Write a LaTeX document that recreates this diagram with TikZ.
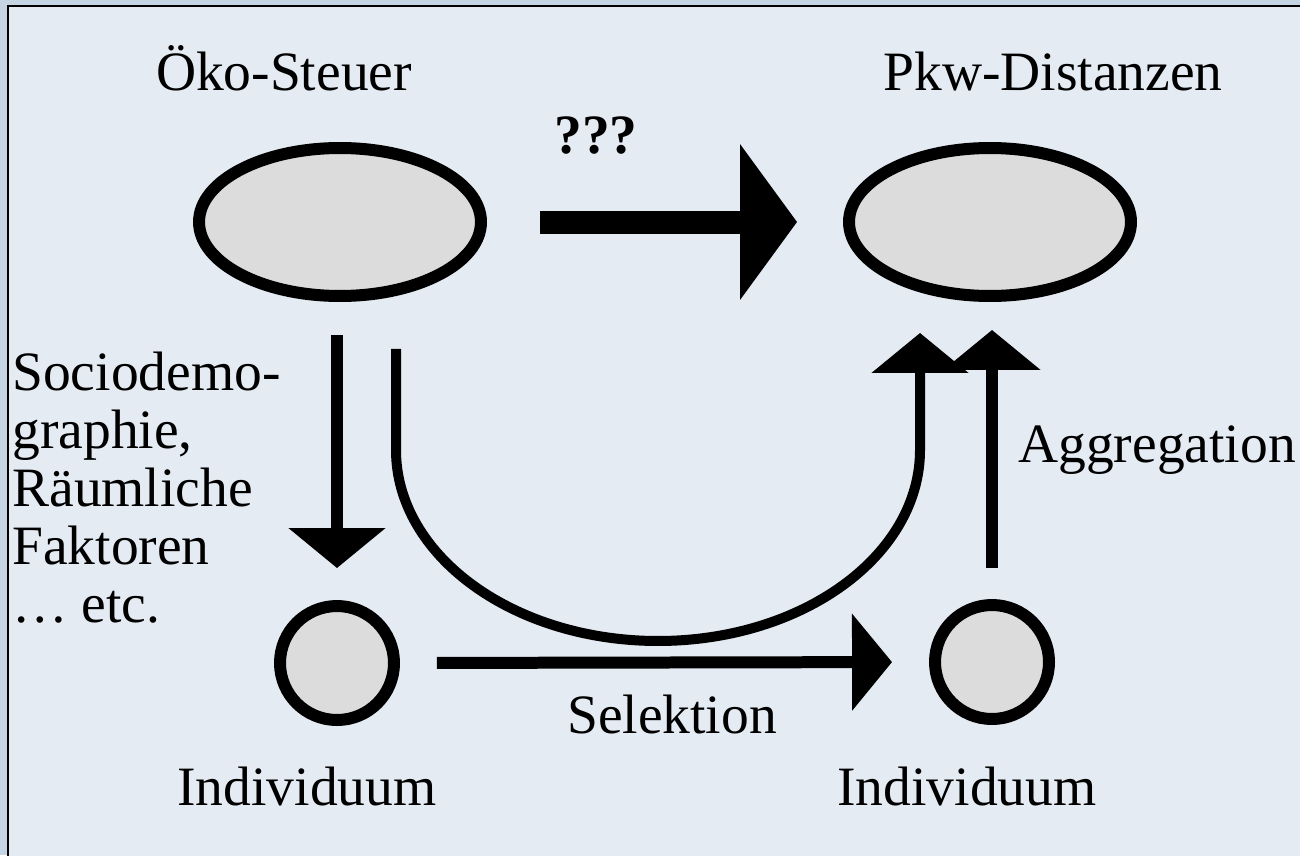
\documentclass[tikz,border=0pt]{standalone}
\usepackage{fontspec}
\setmainfont{Liberation Serif}
\usetikzlibrary{arrows.meta,shapes.geometric,calc}
\definecolor{outerbg}{RGB}{197,213,228}
\definecolor{slidebg}{RGB}{228,235,242}
\definecolor{dotgray}{RGB}{220,220,220}
\tikzset{
  oval/.style={ellipse,draw,line width=0.24cm,fill=dotgray,minimum width=5.64cm,minimum height=2.96cm},
  unit/.style={circle,draw,line width=0.24cm,fill=dotgray,minimum size=2.28cm},
  word/.style={anchor=base,inner sep=0pt},
  fat/.style={line width=0.46cm,-{Triangle[length=1.14cm,width=3.06cm]}},
  link/.style={line width=0.24cm,-{Triangle[length=0.8cm,width=1.9cm]}},
  uarrow/.style={line width=0.2cm,-{Triangle[length=0.8cm,width=1.9cm]}},
}
\begin{document}
\begin{tikzpicture}[x=0.02cm,y=-0.02cm,font=\fontsize{31.6}{33}\selectfont]
  \useasboundingbox (0,0) rectangle (1300,855);
  \clip (0,0) rectangle (1300,855);
  \fill[outerbg] (0,0) rectangle (1300,855);
  \draw[fill=slidebg,line width=0.05cm] (8,6) rectangle (1330,890);
  % ovals and individuals
  \node[oval] (steuer) at (340,222) {};
  \node[oval] (distanz) at (990,222) {};
  \node[unit] (indL) at (337,663) {};
  \node[unit] (indR) at (992,662) {};
  % texts
  \node[word] (steuerT) at (284,91) {Öko-Steuer};
  \node[word] (distanzT) at (1053,91) {Pkw-Distanzen};
  \node[word] (frage) at (596,153) {\textbf{???}};
  \node[word,anchor=base west] (aggr) at (1018,462) {Aggregation};
  \node[word] (sel) at (672,733) {Selektion};
  \node[word] (indLT) at (307,805) {Individuum};
  \node[word] (indRT) at (967,805) {Individuum};
  \node[anchor=north west,align=left,inner sep=0pt] (faktoren) at (12,352)
    {Sociodemo-\\graphie,\\Räumliche\\Faktoren\\… etc.};
  % arrows
  \draw[fat,shorten <=1.06cm,shorten >=0.92cm] (steuer.east) -- (distanz.west);
  \draw[link,shorten <=0.66cm,shorten >=0.64cm] (indL.north |- steuer.south) -- (indL.north);
  \draw[link,shorten <=0.74cm,shorten >=0.74cm] (indL.east) -- (indR.west);
  \draw[link,shorten <=0.62cm,shorten >=0.56cm] (indR.north) -- (indR.north |- distanz.south);
  \draw[uarrow] ($(steuer.south)+(56,47)$) -- ++(0,101)
    arc[start angle=180,end angle=0,x radius=262,y radius=191]
    -- ($(distanz.south)+(-70,31)$);
\end{tikzpicture}
\end{document}
